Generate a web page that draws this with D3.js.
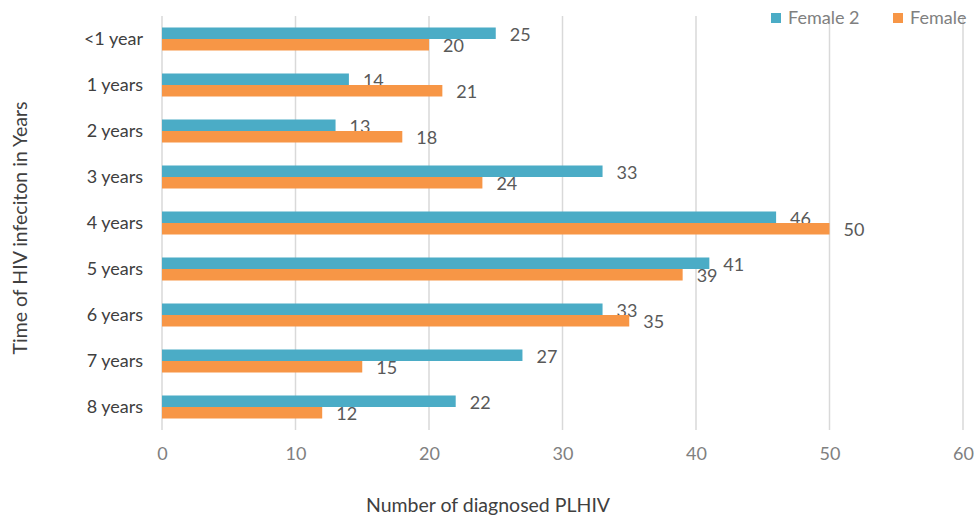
<!DOCTYPE html>
<html><head><meta charset="utf-8">
<script src="https://cdn.jsdelivr.net/npm/d3@7"></script>
<style>body{margin:0;background:#fff;font-family:Lato,"Open Sans",sans-serif;}</style>
</head><body><svg id="c" width="974" height="519"></svg>
<script>
const categories = ["<1 year","1 years","2 years","3 years","4 years","5 years","6 years","7 years","8 years"];
const female2 = [25,14,13,33,46,41,33,27,22];
const female = [20,21,18,24,50,39,35,15,12];
const seriesNames = ["Female 2","Female"];
const seriesColors = ["#4BACC6","#F79646"];
const xTicks = [0,10,20,30,40,50,60];

const svg = d3.select("#c");
const m = {l:162, r:11, t:16, b:89};
const W = 974, H = 519;
const x = d3.scaleLinear().domain([0,60]).range([m.l, W-m.r]);
const y = d3.scaleBand().domain(categories).range([m.t, H-m.b]).paddingInner(0.5).paddingOuter(0.25);
const sub = d3.scaleBand().domain(seriesNames).range([0, y.bandwidth()]);

// gridlines
svg.append("g").selectAll("line").data(xTicks).join("line")
  .attr("x1", d=>x(d)).attr("x2", d=>x(d))
  .attr("y1", m.t).attr("y2", H-m.b)
  .attr("stroke", "#d9d9d9").attr("stroke-width", 1.5);

// x axis tick labels
const xa = svg.append("g").attr("transform", `translate(0,${H-m.b})`)
  .call(d3.axisBottom(x).tickValues(xTicks).tickSize(0).tickPadding(17));
xa.select(".domain").remove();
xa.selectAll("text").attr("font-family","Lato").attr("font-size",18).attr("fill","#808080");

// y axis labels
const ya = svg.append("g").attr("transform", `translate(${m.l},0)`)
  .call(d3.axisLeft(y).tickSize(0).tickPadding(19));
ya.select(".domain").remove();
ya.selectAll("text").attr("font-family","Lato").attr("font-size",18).attr("fill","#404040");

const series = [female2, female];
series.forEach((vals, si) => {
  const g = svg.append("g");
  g.selectAll("rect").data(vals).join("rect")
    .attr("x", x(0)).attr("y", (d,i)=>y(categories[i]) + sub(seriesNames[si]))
    .attr("width", d=>x(d)-x(0)).attr("height", sub.bandwidth())
    .attr("fill", seriesColors[si]);
  g.selectAll("text").data(vals).join("text")
    .attr("x", d=>x(d)+14)
    .attr("y", (d,i)=>y(categories[i]) + sub(seriesNames[si]) + sub.bandwidth()/2 + 1)
    .attr("dy","0.35em")
    .attr("font-family","Lato").attr("font-size",18).attr("fill","#595959")
    .text(d=>d);
});

// legend
const lx = [771, 893];
seriesNames.forEach((n,i)=>{
  svg.append("rect").attr("x", lx[i]).attr("y", 13).attr("width", 10).attr("height", 10).attr("fill", seriesColors[i]);
  svg.append("text").attr("x", lx[i]+17).attr("y", 18).attr("dy","0.35em")
    .attr("font-family","Lato").attr("font-size",18).attr("fill","#808080").text(n);
});

// axis titles
svg.append("text").attr("x", 488).attr("y", 505).attr("dy","0.35em").attr("text-anchor","middle")
  .attr("font-family","Lato").attr("font-size",19.5).attr("fill","#404040").text("Number of diagnosed PLHIV");
svg.append("text").attr("transform","translate(20,228) rotate(-90)").attr("dy","0.35em").attr("text-anchor","middle")
  .attr("font-family","Lato").attr("font-size",19.5).attr("fill","#404040").text("Time of HIV infeciton in Years");
</script></body></html>
